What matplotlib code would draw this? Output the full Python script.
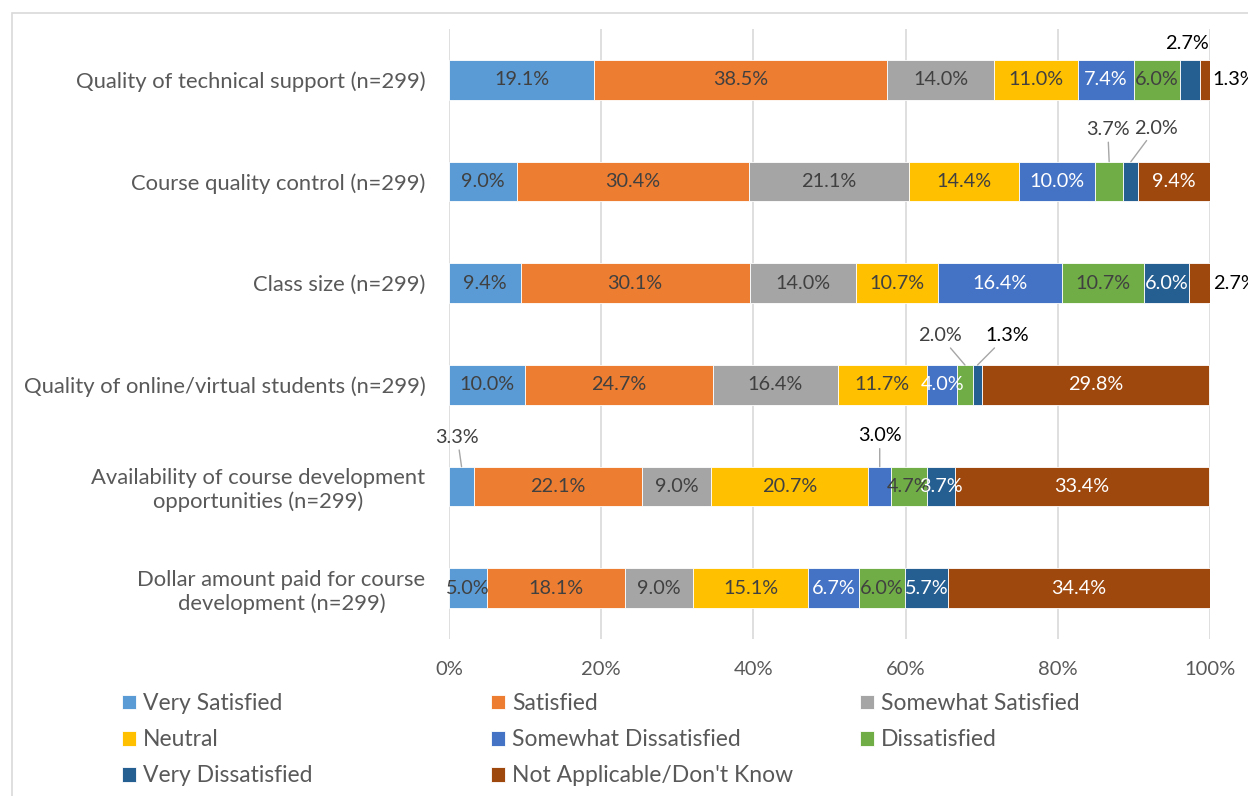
import numpy as np
import matplotlib
matplotlib.use("Agg")
import matplotlib.pyplot as plt
from matplotlib.patches import Rectangle

plt.rcParams['font.family'] = ['Lato', 'DejaVu Sans']

# data
categories = [
    "Quality of technical support (n=299)",
    "Course quality control (n=299)",
    "Class size (n=299)",
    "Quality of online/virtual students (n=299)",
    "Availability of course development\nopportunities (n=299)",
    "Dollar amount paid for course\ndevelopment (n=299)",
]
series_names = ["Very Satisfied", "Satisfied", "Somewhat Satisfied", "Neutral",
                "Somewhat Dissatisfied", "Dissatisfied", "Very Dissatisfied",
                "Not Applicable/Don't Know"]
very_satisfied = [19.1, 9.0, 9.4, 10.0, 3.3, 5.0]
satisfied = [38.5, 30.4, 30.1, 24.7, 22.1, 18.1]
somewhat_satisfied = [14.0, 21.1, 14.0, 16.4, 9.0, 9.0]
neutral = [11.0, 14.4, 10.7, 11.7, 20.7, 15.1]
somewhat_dissatisfied = [7.4, 10.0, 16.4, 4.0, 3.0, 6.7]
dissatisfied = [6.0, 3.7, 10.7, 2.0, 4.7, 6.0]
very_dissatisfied = [2.7, 2.0, 6.0, 1.3, 3.7, 5.7]
not_applicable = [1.3, 9.4, 2.7, 29.8, 33.4, 34.4]
tick_labels = ["0%", "20%", "40%", "60%", "80%", "100%"]

values = [very_satisfied, satisfied, somewhat_satisfied, neutral,
          somewhat_dissatisfied, dissatisfied, very_dissatisfied, not_applicable]
colors = ["#5B9BD5", "#ED7D31", "#A5A5A5", "#FFC000",
          "#4472C4", "#70AD47", "#255E91", "#9E480E"]
label_colors = ["#404040", "#404040", "#404040", "#404040",
                "#FFFFFF", "#404040", "#FFFFFF", "#FFFFFF"]

# labels drawn outside the bar: (row, series) -> (dx, dy in points, leader line, colour)
# dy=None means: put the label just right of the bar end
callouts = {
    (0, 6): (-2, 6, False, "#000000"),
    (0, 7): (2, None, False, "#000000"),
    (1, 5): (-1, 17, True, "#404040"),
    (1, 6): (18, 18, True, "#404040"),
    (2, 7): (2, None, False, "#000000"),
    (3, 5): (-18, 15, True, "#404040"),
    (3, 6): (21, 15, True, "#000000"),
    (4, 0): (-3, 15, True, "#404040"),
    (4, 4): (0, 16, True, "#000000"),
}

fig = plt.figure(figsize=(12.48, 7.96), dpi=100)
fig.patches.append(Rectangle((12 / 1248, -0.05), 1.1, 1 - 13 / 796 + 0.05,
                             transform=fig.transFigure, fill=False,
                             edgecolor="#D9D9D9", linewidth=1.2))
ax = fig.add_axes([449 / 1248, 1 - 639 / 796, 761 / 1248, 610 / 796])

y = np.arange(len(categories))
left = np.zeros(len(categories))
bar_h = 0.39
lab_fs = 14.3
handles = []
for i, vals in enumerate(values):
    vals = np.array(vals)
    bars = ax.barh(y, vals, left=left, height=bar_h, color=colors[i],
                   edgecolor="white", linewidth=0.6, label=series_names[i], zorder=3)
    handles.append(bars)
    for r in range(len(categories)):
        cx = left[r] + vals[r] / 2
        txt = f"{vals[r]:.1f}%"
        if (r, i) in callouts:
            dx, dy, lead, col = callouts[(r, i)]
            if dy is None:
                ax.annotate(txt, (left[r] + vals[r], r), xytext=(dx, 0),
                            textcoords="offset points", ha="left", va="center",
                            fontsize=lab_fs, color=col, zorder=5,
                            annotation_clip=False)
            else:
                ax.annotate(txt, (cx, r - bar_h / 2), xytext=(dx, dy),
                            textcoords="offset points", ha="center", va="bottom",
                            fontsize=lab_fs, color=col, zorder=5,
                            arrowprops=dict(arrowstyle="-", color="#A6A6A6", lw=1.0,
                                            shrinkA=1, shrinkB=0) if lead else None)
        else:
            ax.text(cx, r, txt, ha="center", va="center", fontsize=lab_fs,
                    color=label_colors[i], zorder=5)
    left += vals

ax.set_xlim(0, 100)
ax.set_ylim(len(categories) - 0.5, -0.5)
ax.set_xticks(np.arange(0, 101, 20))
ax.set_xticklabels(tick_labels)
ax.set_yticks(y)
ax.set_yticklabels(categories, multialignment="center", fontsize=15.8)
ax.tick_params(axis="both", length=0, colors="#595959")
ax.tick_params(axis="x", pad=16, labelsize=14.5)
ax.tick_params(axis="y", pad=17)
ax.grid(axis="x", color="#D9D9D9", linewidth=1.2, zorder=0)
for s in ax.spines.values():
    s.set_visible(False)

# legend: three columns, each its own legend placed at the column's left edge
columns = [[0, 3, 6], [1, 4, 7], [2, 5]]
col_x = [106, 475, 844]
for c, idx in enumerate(columns):
    leg = fig.legend([handles[k] for k in idx], [series_names[k] for k in idx],
                     loc="upper left", bbox_to_anchor=(col_x[c] / 1248, 1 - 677 / 796),
                     frameon=False, fontsize=16.5, handlelength=0.62, handleheight=0.62,
                     handletextpad=0.3, labelspacing=0.66, borderpad=0.2,
                     labelcolor="#595959")

fig.savefig("out.png", dpi=100)
